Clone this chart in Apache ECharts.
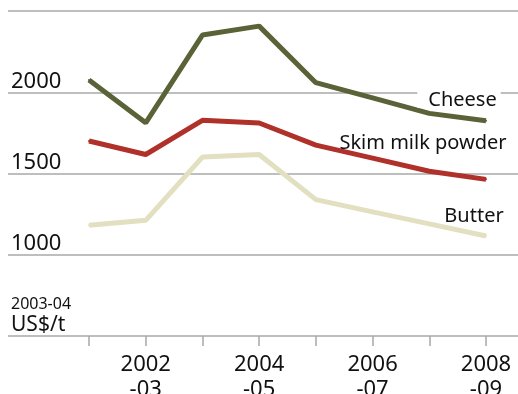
<!DOCTYPE html>
<html>
<head>
<meta charset="utf-8">
<script src="https://cdn.jsdelivr.net/npm/echarts@6/dist/echarts.min.js"></script>
<style>
html,body{margin:0;padding:0;background:#fff;}
#chart{width:518px;height:394px;}
</style>
</head>
<body>
<div id="chart"></div>
<script>
var categories = ['2001-02','2002-03','2003-04','2004-05','2005-06','2006-07','2007-08','2008-09'];
var cheese = [2076, 1812, 2352, 2407, 2059, 1965, 1870, 1825];
var skimMilkPowder = [1700, 1617, 1827, 1811, 1675, 1595, 1514, 1464];
var butter = [1181, 1212, 1601, 1617, 1339, 1264, 1190, 1115];
var yTickLabels = ['1000', '1500', '2000'];
var unitTop = '2003-04';
var unitBottom = 'US$/t';

var FONT = '"Noto Sans", sans-serif';
var GRID = '#a8a8a8';

function lastLabel(arr, text, offset, padding) {
  return arr.map(function (v, i) {
    if (i !== arr.length - 1) return v;
    return {
      value: v,
      label: {
        show: true, position: 'top', distance: 0, offset: offset, formatter: text,
        fontFamily: FONT, fontSize: 20, color: '#111', lineHeight: padding ? 14 : 22,
        backgroundColor: padding ? '#fff' : 'transparent', padding: padding || 0
      }
    };
  });
}

var chart = echarts.init(document.getElementById('chart'));
chart.setOption({
  animation: false,
  grid: [
    {left: 8, right: 0, top: 11, bottom: 58, outerBoundsMode: 'none', containLabel: false},
    {left: 89, right: 32, top: 11, bottom: 58, outerBoundsMode: 'none', containLabel: false}
  ],
  xAxis: [
    {gridIndex: 0, type: 'value', min: 0, max: 1, show: false},
    {
      gridIndex: 1, type: 'category', data: categories, boundaryGap: false,
      axisLine: {show: false},
      axisTick: {show: true, length: 10, lineStyle: {color: GRID, width: 1.5}, interval: 0},
      axisLabel: {
        interval: function (i) { return i % 2 === 1; },
        formatter: function (v) { var p = v.split('-'); return p[0] + '\n-' + p[1]; },
        fontFamily: FONT, fontSize: 22, color: '#111', lineHeight: 25, margin: 16
      }
    }
  ],
  yAxis: [
    {
      gridIndex: 0, type: 'value', min: 500, max: 2500, interval: 500,
      axisLine: {show: false}, axisTick: {show: false},
      splitLine: {show: true, lineStyle: {color: GRID, width: 1.5}},
      axisLabel: {
        inside: true, margin: 3, verticalAlign: 'bottom',
        fontFamily: FONT, fontSize: 22, color: '#111',
        formatter: function (v) { var s = String(v); return yTickLabels.indexOf(s) >= 0 ? s : ''; }
      },
      name: '{a|' + unitTop + '}\n{b|' + unitBottom + '}',
      nameLocation: 'start', nameGap: 0,
      nameTextStyle: {
        align: 'left', verticalAlign: 'bottom', padding: [0, 0, 0, 3],
        rich: {
          a: {fontFamily: FONT, fontSize: 16, color: '#111', lineHeight: 20},
          b: {fontFamily: FONT, fontSize: 21, color: '#111', lineHeight: 22}
        }
      }
    },
    {gridIndex: 1, type: 'value', min: 500, max: 2500, interval: 500, show: false}
  ],
  series: [
    {
      name: 'Butter', type: 'line', xAxisIndex: 1, yAxisIndex: 1,
      data: lastLabel(butter, 'Butter', [-12, -8], null),
      symbol: 'circle', symbolSize: 2, showSymbol: true, itemStyle: {color: '#e2e0c0'},
      lineStyle: {color: '#e2e0c0', width: 5}, z: 3
    },
    {
      name: 'Skim milk powder', type: 'line', xAxisIndex: 1, yAxisIndex: 1,
      data: lastLabel(skimMilkPowder, 'Skim milk powder', [-63, -24], null),
      symbol: 'circle', symbolSize: 2, showSymbol: true, itemStyle: {color: '#b0302a'},
      lineStyle: {color: '#b0302a', width: 5}, z: 4
    },
    {
      name: 'Cheese', type: 'line', xAxisIndex: 1, yAxisIndex: 1,
      data: lastLabel(cheese, 'Cheese', [-27, -12], [7, 4, 0, 11]),
      symbol: 'circle', symbolSize: 2, showSymbol: true, itemStyle: {color: '#5a6238'},
      lineStyle: {color: '#5a6238', width: 5}, z: 5
    }
  ]
});
</script>
</body>
</html>
